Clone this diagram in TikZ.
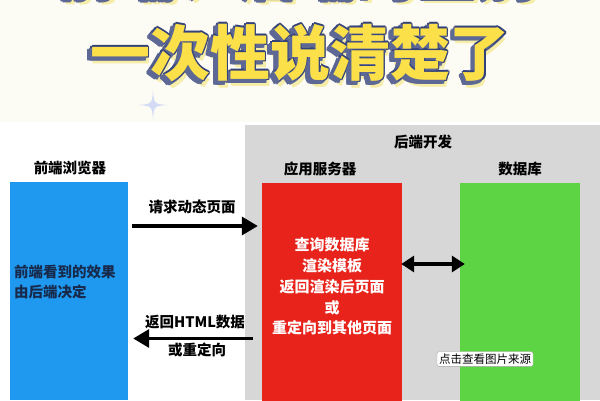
\documentclass[tikz,border=0pt]{standalone}
\usepackage{fontspec}
\setmainfont{Noto Sans CJK SC}
\usetikzlibrary{calc}
\usetikzlibrary{arrows.meta}
\definecolor{cream}{HTML}{FDFCF4}
\definecolor{starblue}{HTML}{D3DCF4}
\definecolor{titlenavy}{HTML}{34427A}
\definecolor{titleyellow}{HTML}{FBE04A}
\definecolor{titleglow}{HTML}{F6EDA8}
\definecolor{backgray}{HTML}{D7D7D7}
\definecolor{browserblue}{HTML}{1F99F0}
\definecolor{serverred}{HTML}{E8231B}
\definecolor{dbgreen}{HTML}{5DD443}
\definecolor{inknavy}{HTML}{182A4C}

\begin{document}
\begin{tikzpicture} [x=1pt, y=-1pt,
  box/.style={minimum width=#1, minimum height=218pt, inner sep=0},
  lbl/.style={font=\bfseries\fontsize{14.5}{20}\selectfont, text=black, inner sep=1},
  link/.style={black, line width=3.5pt, >={Triangle[length=16pt, width=18pt]}},
  headline/.style={font=\bfseries\fontsize{60}{66}\selectfont, inner sep=0}]
\clip (0,0) rectangle (600,400);
\fill[cream] (0,0) rectangle (600,122);
\fill[white] (0,122) rectangle (600,400);
\foreach \dx/\dy in {0/6,1/7} {
 \node[headline, text=titleglow] at (300+\dx,-30+\dy) {前端、后端的区别};
 \node[headline, text=titleglow] at (300+\dx,53+\dy) {一次性说清楚了};
}
\foreach \a in {0,45,...,315} {
 \node[headline, text=titlenavy!80] at ($(297,-27)+(\a:1.5)$) {前端、后端的区别};
 \node[headline, text=titlenavy!80] at ($(297,56)+(\a:1.5)$) {一次性说清楚了};
 \node[headline, text=titlenavy] at ($(300,-30)+(\a:1.5)$) {前端、后端的区别};
 \node[headline, text=titlenavy] at ($(300,53)+(\a:1.5)$) {一次性说清楚了};
}
\node[headline, text=titleyellow] (headone) at (300,-30) {前端、后端的区别};
\node[headline, text=titleyellow] (headtwo) at (300,53) {一次性说清楚了};
\fill[starblue] (153,90) .. controls (154,104) .. (168,105) .. controls (154,106) .. (153,120)
 .. controls (152,106) .. (138,105) .. controls (152,104) .. (153,90);
\node[fill=backgray, minimum width=355pt, minimum height=275pt, inner sep=0] (backend) at (422.5,262.5) {};
\node[box=118pt, fill=browserblue] (browser) at (69,291) {};
\node[box=140pt, fill=serverred] (server) at (332,291.5) {};
\node[box=120pt, fill=dbgreen] (db) at (520,291.5) {};
\node[lbl] (backendlbl) at (423,142) {后端开发};
\node[lbl] (browserlbl) at (70,168) {前端浏览器};
\node[lbl] (serverlbl) at (320,169) {应用服务器};
\node[lbl] (dblbl) at (520,169) {数据库};
\node[lbl, text=inknavy, align=left, anchor=west] (browsertxt) at (13,282) {前端看到的效果\\由后端决定};
\node[lbl, text=white, align=center, font=\bfseries\fontsize{15}{20.8}\selectfont] (servertxt) at (332,286.5)
 {查询数据库\\渲染模板\\返回渲染后页面\\或\\重定向到其他页面};
\draw[link, ->, shorten <=4pt, shorten >=4pt] ([yshift=65pt]browser.east) -- ([yshift=65pt]browser.east -| server.west);
\draw[link, ->, shorten <=9pt, shorten >=5pt] ([yshift=-47pt]server.west) -- ([yshift=-47pt]server.west -| browser.east);
\draw[link, <->, >={Triangle[length=13pt, width=16pt]}, shorten <=-1pt, shorten >=-5pt] ([yshift=27.5pt]server.east) -- ([yshift=27.5pt]server.east -| db.west);
\node[lbl] (reqlbl) at (192,207) {请求动态页面};
\node[lbl] (resplbl) at (195,322) {返回HTML数据};
\node[lbl] (redirlbl) at (197,350) {或重定向};
\node[draw=gray!70, fill=white, rounded corners=2pt, inner sep=2pt, font=\fontsize{11.5}{13}\selectfont] (srclbl) at (485,359) {点击查看图片来源};
\end{tikzpicture}
\end{document}
